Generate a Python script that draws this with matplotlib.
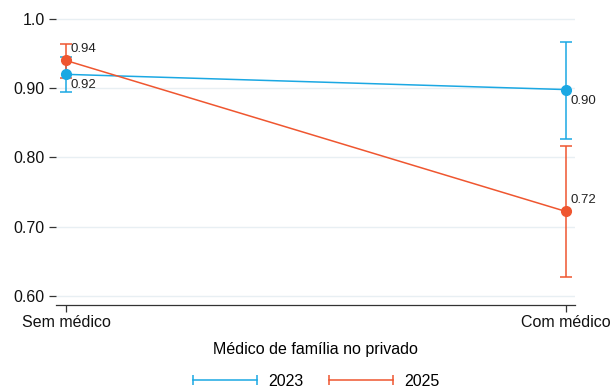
import numpy as np
import matplotlib.pyplot as plt
from matplotlib.lines import Line2D

plt.rcParams['font.family'] = ['Liberation Sans', 'DejaVu Sans']

# Data
categories = ["Sem médico", "Com médico"]
years = ["2023", "2025"]
mean_2023 = [0.92, 0.898]
low_2023 = [0.895, 0.827]
high_2023 = [0.945, 0.967]
mean_2025 = [0.94, 0.722]
low_2025 = [0.915, 0.627]
high_2025 = [0.964, 0.816]
labels_2023 = ["0.92", "0.90"]
labels_2025 = ["0.94", "0.72"]

yticks = [0.6, 0.7, 0.8, 0.9, 1.0]
ytick_labels = ["0.60", "0.70", "0.80", "0.90", "1.0"]

blue = "#1ba8e3"
red = "#ef5630"
fs = 11.5

fig = plt.figure(figsize=(6.13, 3.9), dpi=100)
ax = fig.add_axes([56 / 613, 1 - 305 / 390, (575 - 56) / 613, (305 - 12) / 390])

x = np.arange(len(categories))
series = [
    (mean_2023, low_2023, high_2023, labels_2023, blue, -8),
    (mean_2025, low_2025, high_2025, labels_2025, red, 8),
]
for mean, low, high, labs, col, dy in series:
    mean = np.array(mean)
    err = [mean - np.array(low), np.array(high) - mean]
    ax.errorbar(x, mean, yerr=err, color=col, lw=1.1, elinewidth=1.1,
                capsize=4, capthick=1.1, marker='o', ms=7, zorder=3)
    for xi, yi, lab in zip(x, mean, labs):
        ax.annotate(lab, (xi, yi), xytext=(3, dy), textcoords='offset points',
                    ha='left', va='center', fontsize=9.5, color='#222222')

ax.set_xlim(-0.02, 1.018)
ax.set_ylim(0.587, 1.01)
ax.set_xticks(x)
ax.set_xticklabels(categories, fontsize=fs)
ax.set_yticks(yticks)
ax.set_yticklabels(ytick_labels, fontsize=fs)
ax.grid(axis='y', color='#e8eff3', lw=1.0, zorder=0)
ax.set_axisbelow(True)
for s in ['top', 'right', 'left']:
    ax.spines[s].set_visible(False)
ax.spines['bottom'].set_color('#333333')
ax.spines['bottom'].set_linewidth(0.9)
ax.tick_params(axis='both', length=5, width=0.9, color='#333333', labelcolor='#111111')
ax.tick_params(axis='y', pad=3)
ax.tick_params(axis='x', pad=2)
ax.set_xlabel("Médico de família no privado", fontsize=fs, labelpad=9)

handles = [Line2D([0, 1], [0, 0], color=c, lw=1.1, marker='|', ms=7, mew=1.1)
           for c in (blue, red)]
fig.legend(handles, years, loc='center', bbox_to_anchor=(314 / 613, 1 - 381 / 390),
           ncol=2, frameon=False, numpoints=2, handlelength=4.6, fontsize=fs,
           columnspacing=1.3, handletextpad=0.4)

fig.savefig("out.png", dpi=100)
